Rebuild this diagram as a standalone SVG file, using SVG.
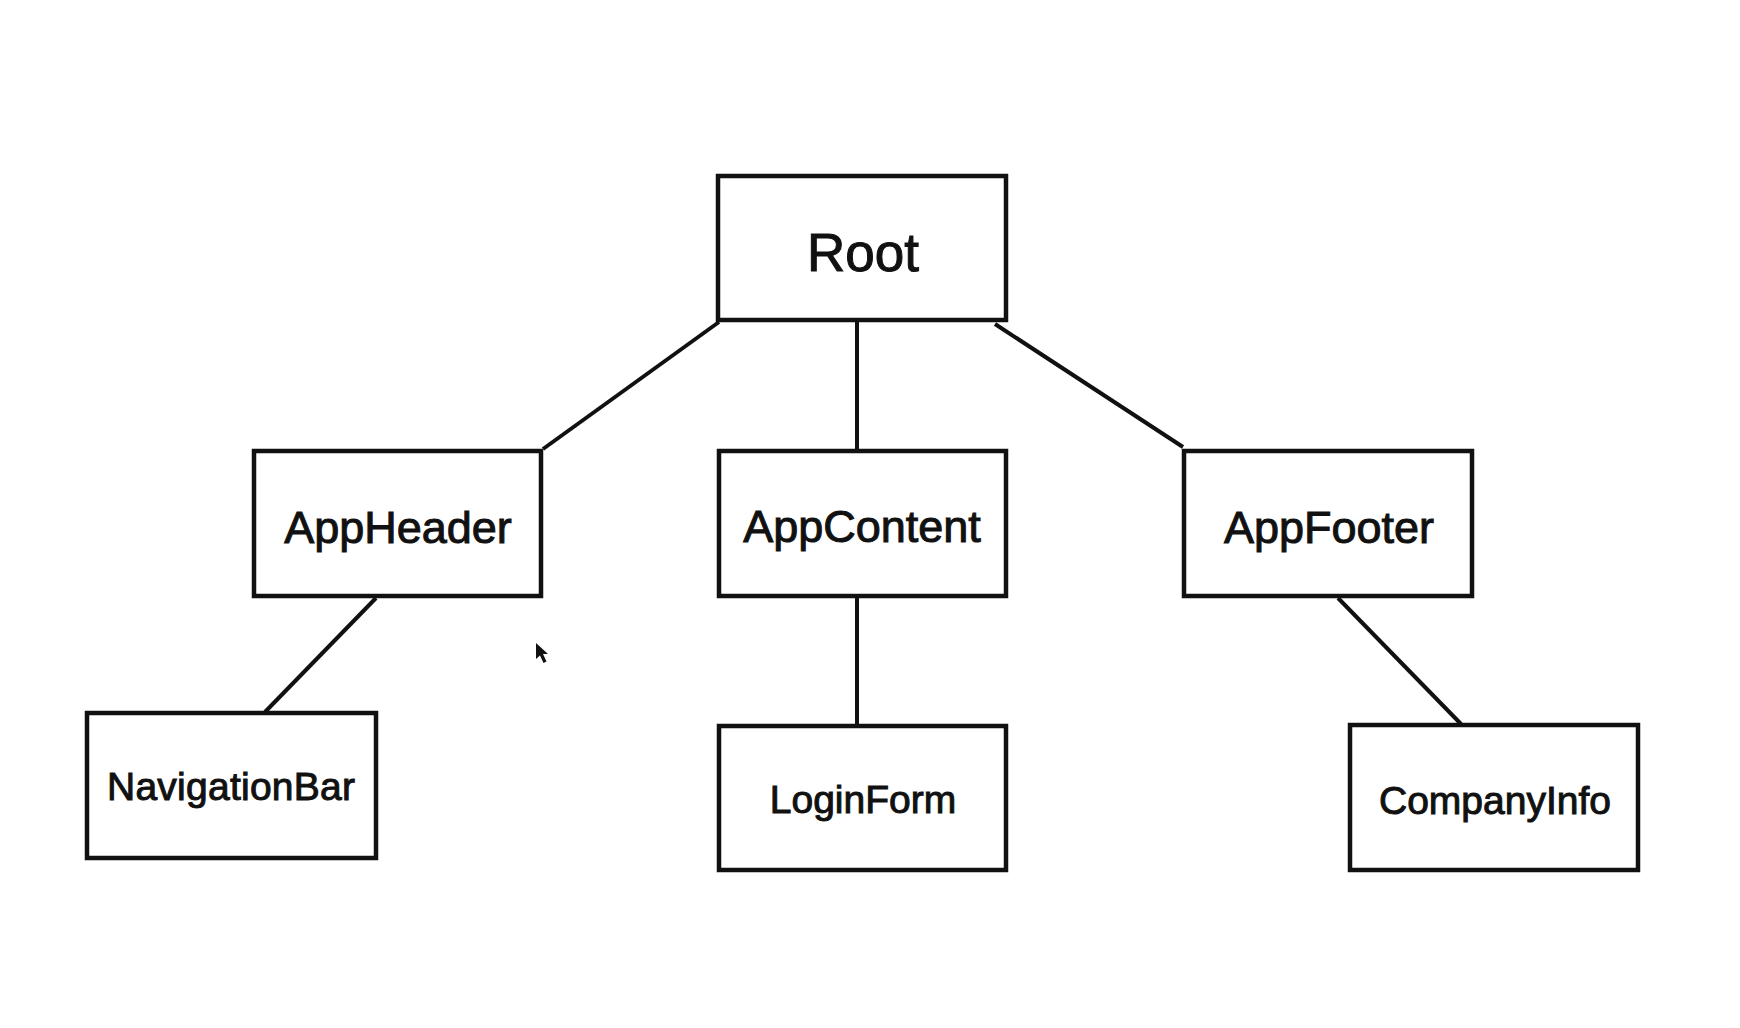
<svg xmlns="http://www.w3.org/2000/svg" width="1740" height="1028" viewBox="0 0 1740 1028">
<style>
.box{fill:#fff;stroke:#111;stroke-width:4.5}
.edge{stroke:#111;stroke-width:4;fill:none}
text{font-family:"Liberation Sans",Arial,sans-serif;fill:#111;stroke:#111;stroke-width:1;text-anchor:middle}
.l0{font-size:53px}
.l1{font-size:45px}
.l2{font-size:39px}
</style>
<rect width="1740" height="1028" fill="#fff"/>
<g id="connectors">
<line class="edge" x1="719" y1="322" x2="543" y2="449"/>
<line class="edge" x1="857" y1="322" x2="857" y2="451"/>
<line class="edge" x1="995" y1="324" x2="1183" y2="447"/>
<line class="edge" x1="376" y1="598" x2="265" y2="712"/>
<line class="edge" x1="857" y1="597" x2="857" y2="726"/>
<line class="edge" x1="1338" y1="598" x2="1461" y2="724"/>
</g>
<g id="root">
<rect class="box" x="718" y="176" width="288" height="144"/>
<text class="l0" x="863" y="271">Root</text>
</g>
<g id="appheader">
<rect class="box" x="254" y="451" width="287" height="145"/>
<text class="l1" x="398" y="543">AppHeader</text>
</g>
<g id="appcontent">
<rect class="box" x="719" y="451" width="287" height="145"/>
<text class="l1" x="862" y="542">AppContent</text>
</g>
<g id="appfooter">
<rect class="box" x="1184" y="451" width="288" height="145"/>
<text class="l1" x="1329" y="543">AppFooter</text>
</g>
<g id="navigationbar">
<rect class="box" x="87" y="713" width="289" height="145"/>
<text class="l2" x="231" y="800" textLength="248">NavigationBar</text>
</g>
<g id="loginform">
<rect class="box" x="719" y="726" width="287" height="144"/>
<text class="l2" x="863" y="813">LoginForm</text>
</g>
<g id="companyinfo">
<rect class="box" x="1350" y="725" width="288" height="145"/>
<text class="l2" x="1495" y="814">CompanyInfo</text>
</g>
<path d="M536,643 L536,659 L540,655.5 L543.5,663 L546.5,661.5 L543,654 L548,654 Z" fill="#111"/>
</svg>
